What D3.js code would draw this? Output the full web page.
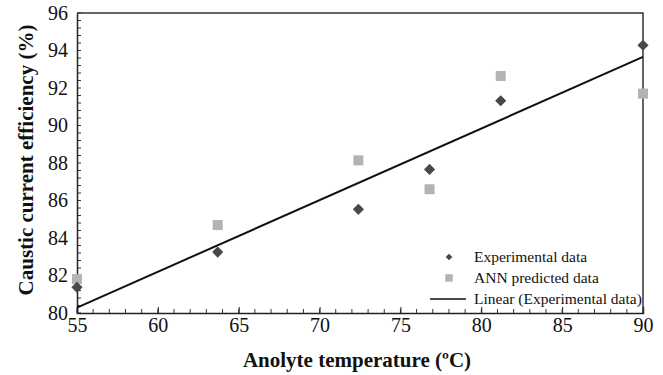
<!DOCTYPE html>
<html>
<head>
<meta charset="utf-8">
<script src="https://cdn.jsdelivr.net/npm/d3@7"></script>
<style>
  body { margin: 0; background: #fff; }
  .axis path, .axis line { stroke: #222; }
</style>
</head>
<body>
<div class="container"></div>
<script>
const WIDTH = 663;
const HEIGHT = 375;
const MARGIN = { top: 13, right: 20, bottom: 62, left: 77 };
const FONT = "Liberation Serif";

const INNER_WIDTH = WIDTH - MARGIN.left - MARGIN.right;
const INNER_HEIGHT = HEIGHT - MARGIN.top - MARGIN.bottom;

// data
var temperatures = [55, 63.7, 72.4, 76.8, 81.2, 90];
var experimental = [81.37, 83.25, 85.53, 87.66, 91.32, 94.28];
var annPredicted = [81.81, 84.69, 88.14, 86.6, 92.64, 91.7];
var xTicks = [55, 60, 65, 70, 75, 80, 85, 90];
var yTicks = [80, 82, 84, 86, 88, 90, 92, 94, 96];
var legendLabels = ["Experimental data", "ANN predicted data", "Linear (Experimental data)"];

var translate = function (x, y) {
    return "translate(" + x + "," + y + ")";
};

// least squares fit of the experimental points
var fitLine = function (xs, ys) {
    var mx = d3.mean(xs), my = d3.mean(ys);
    var sxy = d3.sum(xs, function (x, i) { return (x - mx) * (ys[i] - my); });
    var sxx = d3.sum(xs, function (x) { return (x - mx) * (x - mx); });
    var slope = sxy / sxx;
    return function (x) { return my + slope * (x - mx); };
};

var svg = d3.select('.container').append('svg')
    .attr('width', WIDTH)
    .attr('height', HEIGHT);

var xScale = d3.scaleLinear().domain([55, 90]).range([0, INNER_WIDTH]);
var yScale = d3.scaleLinear().domain([80, 96]).range([INNER_HEIGHT, 0]);

var g = svg.append('g').attr('transform', translate(MARGIN.left, MARGIN.top));

// minor ticks, pointing into the plot
var xMinor = d3.range(55, 90.01, 1);
var yMinor = d3.range(80, 96.01, 0.4);

g.append('g')
    .selectAll('line').data(xMinor).enter().append('line')
    .attr('x1', function (d) { return xScale(d); })
    .attr('x2', function (d) { return xScale(d); })
    .attr('y1', INNER_HEIGHT)
    .attr('y2', INNER_HEIGHT - 4)
    .attr('stroke', '#333').attr('stroke-width', 1);

g.append('g')
    .selectAll('line').data(yMinor).enter().append('line')
    .attr('x1', 0)
    .attr('x2', 4)
    .attr('y1', function (d) { return yScale(d); })
    .attr('y2', function (d) { return yScale(d); })
    .attr('stroke', '#333').attr('stroke-width', 1);

var xAxis = d3.axisBottom(xScale).tickValues(xTicks).tickSize(-6).tickPadding(5);
var yAxis = d3.axisLeft(yScale).tickValues(yTicks).tickSize(0).tickPadding(9);

var styleAxis = function (s) {
    s.selectAll('text')
        .attr('font-family', FONT)
        .attr('font-size', 20)
        .attr('fill', '#111');
    s.select('.domain').attr('stroke-width', 1.5);
};

g.append('g')
    .attr('class', 'axis')
    .attr('transform', translate(0, INNER_HEIGHT))
    .call(xAxis)
    .call(styleAxis);

g.append('g')
    .attr('class', 'axis')
    .call(yAxis)
    .call(styleAxis);

// top and right frame
g.append('path')
    .attr('d', 'M0,0H' + INNER_WIDTH + 'V' + INNER_HEIGHT)
    .attr('fill', 'none')
    .attr('stroke', '#333')
    .attr('stroke-width', 1.5);

// trend line
var fit = fitLine(temperatures, experimental);
var line = d3.line()
    .x(function (d) { return xScale(d); })
    .y(function (d) { return yScale(fit(d)); });

g.append('path')
    .attr('d', line([55, 90]))
    .attr('fill', 'none')
    .attr('stroke', '#111')
    .attr('stroke-width', 2);

var square = d3.symbol().type(d3.symbolSquare).size(100);
var diamond = d3.symbol().type(d3.symbolSquare).size(62);

g.selectAll('.ann').data(annPredicted).enter().append('path')
    .attr('class', 'ann')
    .attr('d', square)
    .attr('transform', function (d, i) { return translate(xScale(temperatures[i]), yScale(d)); })
    .attr('fill', '#b3b3b3');

g.selectAll('.exp').data(experimental).enter().append('path')
    .attr('class', 'exp')
    .attr('d', diamond)
    .attr('transform', function (d, i) { return translate(xScale(temperatures[i]), yScale(d)) + ' rotate(45)'; })
    .attr('fill', '#484848');

// legend
var legend = svg.append('g');
var lx = 449, ly = [257, 278, 299];

legend.append('path')
    .attr('d', d3.symbol().type(d3.symbolSquare).size(22))
    .attr('transform', translate(lx, ly[0]) + ' rotate(45)')
    .attr('fill', '#484848');
legend.append('path')
    .attr('d', d3.symbol().type(d3.symbolSquare).size(56))
    .attr('transform', translate(lx, ly[1]))
    .attr('fill', '#b3b3b3');
legend.append('line')
    .attr('x1', 430).attr('x2', 466)
    .attr('y1', ly[2]).attr('y2', ly[2])
    .attr('stroke', '#111').attr('stroke-width', 1.5);

legend.selectAll('text').data(legendLabels).enter().append('text')
    .attr('x', 474)
    .attr('y', function (d, i) { return ly[i] + 5; })
    .attr('font-family', FONT)
    .attr('font-size', 15.5)
    .attr('fill', '#111')
    .text(function (d) { return d; });

// axis titles
svg.append('text')
    .attr('x', 357)
    .attr('y', 367)
    .attr('text-anchor', 'middle')
    .attr('font-family', FONT)
    .attr('font-weight', 'bold')
    .attr('font-size', 21)
    .attr('fill', '#111')
    .text('Anolyte temperature (ºC)');

svg.append('text')
    .attr('transform', translate(33, 160) + ' rotate(-90)')
    .attr('text-anchor', 'middle')
    .attr('font-family', FONT)
    .attr('font-weight', 'bold')
    .attr('font-size', 21)
    .attr('fill', '#111')
    .text('Caustic current efficiency (%)');
</script>
</body>
</html>
